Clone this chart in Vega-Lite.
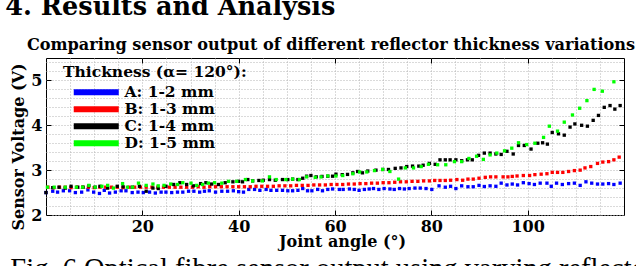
{
  "$schema": "https://vega.github.io/schema/vega-lite/v6.json",
  "background": "white",
  "padding": {"left": 5, "top": -5, "right": 0, "bottom": 0},
  "title": {"text": "4.  Results and Analysis", "anchor": "start", "frame": "bounds", "font": "DejaVu Serif", "fontSize": 25.5, "fontWeight": "bold", "color": "#000", "offset": 16, "dx": -5},
  "vconcat": [
    {
      "title": {"text": "Fig. 6 Optical fibre sensor output using varying reflector", "orient": "bottom", "anchor": "start", "frame": "bounds", "font": "Liberation Serif", "fontSize": 28.5, "fontWeight": "normal", "color": "#000", "offset": 5},
      "vconcat": [
        {
          "title": {"text": "Comparing sensor output of different reflector thickness variations", "anchor": "middle", "font": "DejaVu Serif", "fontSize": 16.1, "fontWeight": "bold", "color": "#000", "offset": 1, "dx": -4},
          "width": 578,
          "height": 157,
          "data": {"values": [
            {"s":"A: 1-2 mm","a":0.0,"v":2.50},{"s":"A: 1-2 mm","a":1.4,"v":2.53},{"s":"A: 1-2 mm","a":2.4,"v":2.51},{"s":"A: 1-2 mm","a":3.6,"v":2.54},{"s":"A: 1-2 mm","a":4.9,"v":2.54},{"s":"A: 1-2 mm","a":6.1,"v":2.50},{"s":"A: 1-2 mm","a":7.4,"v":2.51},{"s":"A: 1-2 mm","a":8.7,"v":2.56},{"s":"A: 1-2 mm","a":9.9,"v":2.51},{"s":"A: 1-2 mm","a":11.1,"v":2.48},{"s":"A: 1-2 mm","a":12.1,"v":2.55},{"s":"A: 1-2 mm","a":13.2,"v":2.49},{"s":"A: 1-2 mm","a":14.4,"v":2.51},{"s":"A: 1-2 mm","a":15.6,"v":2.54},{"s":"A: 1-2 mm","a":16.6,"v":2.54},{"s":"A: 1-2 mm","a":17.9,"v":2.50},{"s":"A: 1-2 mm","a":19.1,"v":2.51},{"s":"A: 1-2 mm","a":20.2,"v":2.50},{"s":"A: 1-2 mm","a":21.5,"v":2.51},{"s":"A: 1-2 mm","a":22.7,"v":2.49},{"s":"A: 1-2 mm","a":23.9,"v":2.51},{"s":"A: 1-2 mm","a":24.9,"v":2.51},{"s":"A: 1-2 mm","a":26.1,"v":2.50},{"s":"A: 1-2 mm","a":27.3,"v":2.51},{"s":"A: 1-2 mm","a":28.4,"v":2.51},{"s":"A: 1-2 mm","a":29.6,"v":2.53},{"s":"A: 1-2 mm","a":30.7,"v":2.53},{"s":"A: 1-2 mm","a":31.9,"v":2.51},{"s":"A: 1-2 mm","a":32.9,"v":2.53},{"s":"A: 1-2 mm","a":33.9,"v":2.54},{"s":"A: 1-2 mm","a":35.2,"v":2.51},{"s":"A: 1-2 mm","a":36.5,"v":2.53},{"s":"A: 1-2 mm","a":37.7,"v":2.53},{"s":"A: 1-2 mm","a":38.9,"v":2.54},{"s":"A: 1-2 mm","a":40.0,"v":2.52},{"s":"A: 1-2 mm","a":41.0,"v":2.51},{"s":"A: 1-2 mm","a":42.1,"v":2.57},{"s":"A: 1-2 mm","a":43.3,"v":2.57},{"s":"A: 1-2 mm","a":44.4,"v":2.55},{"s":"A: 1-2 mm","a":45.7,"v":2.57},{"s":"A: 1-2 mm","a":46.7,"v":2.55},{"s":"A: 1-2 mm","a":47.9,"v":2.55},{"s":"A: 1-2 mm","a":49.1,"v":2.55},{"s":"A: 1-2 mm","a":50.2,"v":2.54},{"s":"A: 1-2 mm","a":51.2,"v":2.54},{"s":"A: 1-2 mm","a":52.3,"v":2.55},{"s":"A: 1-2 mm","a":53.3,"v":2.59},{"s":"A: 1-2 mm","a":54.3,"v":2.54},{"s":"A: 1-2 mm","a":55.2,"v":2.54},{"s":"A: 1-2 mm","a":56.4,"v":2.57},{"s":"A: 1-2 mm","a":57.4,"v":2.54},{"s":"A: 1-2 mm","a":58.5,"v":2.57},{"s":"A: 1-2 mm","a":59.5,"v":2.58},{"s":"A: 1-2 mm","a":60.9,"v":2.57},{"s":"A: 1-2 mm","a":61.7,"v":2.57},{"s":"A: 1-2 mm","a":63.0,"v":2.58},{"s":"A: 1-2 mm","a":64.0,"v":2.57},{"s":"A: 1-2 mm","a":65.0,"v":2.55},{"s":"A: 1-2 mm","a":66.1,"v":2.57},{"s":"A: 1-2 mm","a":67.1,"v":2.58},{"s":"A: 1-2 mm","a":68.0,"v":2.59},{"s":"A: 1-2 mm","a":69.1,"v":2.57},{"s":"A: 1-2 mm","a":70.2,"v":2.59},{"s":"A: 1-2 mm","a":71.4,"v":2.58},{"s":"A: 1-2 mm","a":72.3,"v":2.57},{"s":"A: 1-2 mm","a":73.4,"v":2.59},{"s":"A: 1-2 mm","a":74.4,"v":2.58},{"s":"A: 1-2 mm","a":75.4,"v":2.59},{"s":"A: 1-2 mm","a":76.6,"v":2.60},{"s":"A: 1-2 mm","a":77.7,"v":2.60},{"s":"A: 1-2 mm","a":78.9,"v":2.59},{"s":"A: 1-2 mm","a":80.1,"v":2.57},{"s":"A: 1-2 mm","a":81.6,"v":2.65},{"s":"A: 1-2 mm","a":82.9,"v":2.62},{"s":"A: 1-2 mm","a":84.0,"v":2.64},{"s":"A: 1-2 mm","a":85.1,"v":2.59},{"s":"A: 1-2 mm","a":86.3,"v":2.65},{"s":"A: 1-2 mm","a":87.6,"v":2.63},{"s":"A: 1-2 mm","a":88.7,"v":2.63},{"s":"A: 1-2 mm","a":89.9,"v":2.66},{"s":"A: 1-2 mm","a":91.0,"v":2.635},{"s":"A: 1-2 mm","a":92.2,"v":2.65},{"s":"A: 1-2 mm","a":93.4,"v":2.64},{"s":"A: 1-2 mm","a":94.5,"v":2.71},{"s":"A: 1-2 mm","a":95.7,"v":2.67},{"s":"A: 1-2 mm","a":96.8,"v":2.69},{"s":"A: 1-2 mm","a":97.9,"v":2.67},{"s":"A: 1-2 mm","a":99.1,"v":2.72},{"s":"A: 1-2 mm","a":100.3,"v":2.70},{"s":"A: 1-2 mm","a":101.4,"v":2.68},{"s":"A: 1-2 mm","a":102.6,"v":2.71},{"s":"A: 1-2 mm","a":104.0,"v":2.71},{"s":"A: 1-2 mm","a":104.9,"v":2.64},{"s":"A: 1-2 mm","a":106.0,"v":2.71},{"s":"A: 1-2 mm","a":107.2,"v":2.68},{"s":"A: 1-2 mm","a":108.5,"v":2.70},{"s":"A: 1-2 mm","a":109.7,"v":2.71},{"s":"A: 1-2 mm","a":110.9,"v":2.66},{"s":"A: 1-2 mm","a":112.1,"v":2.74},{"s":"A: 1-2 mm","a":113.3,"v":2.71},{"s":"A: 1-2 mm","a":114.5,"v":2.69},{"s":"A: 1-2 mm","a":115.6,"v":2.69},{"s":"A: 1-2 mm","a":116.8,"v":2.70},{"s":"A: 1-2 mm","a":117.9,"v":2.68},{"s":"A: 1-2 mm","a":119.2,"v":2.71},
            {"s":"B: 1-3 mm","a":0.4,"v":2.62},{"s":"B: 1-3 mm","a":1.6,"v":2.61},{"s":"B: 1-3 mm","a":2.8,"v":2.62},{"s":"B: 1-3 mm","a":4.0,"v":2.62},{"s":"B: 1-3 mm","a":5.2,"v":2.61},{"s":"B: 1-3 mm","a":6.4,"v":2.62},{"s":"B: 1-3 mm","a":7.6,"v":2.62},{"s":"B: 1-3 mm","a":8.8,"v":2.62},{"s":"B: 1-3 mm","a":10.0,"v":2.61},{"s":"B: 1-3 mm","a":11.2,"v":2.62},{"s":"B: 1-3 mm","a":12.4,"v":2.62},{"s":"B: 1-3 mm","a":13.6,"v":2.62},{"s":"B: 1-3 mm","a":14.8,"v":2.62},{"s":"B: 1-3 mm","a":16.0,"v":2.61},{"s":"B: 1-3 mm","a":17.2,"v":2.62},{"s":"B: 1-3 mm","a":18.4,"v":2.62},{"s":"B: 1-3 mm","a":19.6,"v":2.62},{"s":"B: 1-3 mm","a":20.8,"v":2.62},{"s":"B: 1-3 mm","a":22.0,"v":2.62},{"s":"B: 1-3 mm","a":23.2,"v":2.62},{"s":"B: 1-3 mm","a":24.4,"v":2.62},{"s":"B: 1-3 mm","a":25.6,"v":2.62},{"s":"B: 1-3 mm","a":26.8,"v":2.62},{"s":"B: 1-3 mm","a":28.0,"v":2.62},{"s":"B: 1-3 mm","a":29.2,"v":2.62},{"s":"B: 1-3 mm","a":30.4,"v":2.62},{"s":"B: 1-3 mm","a":31.6,"v":2.63},{"s":"B: 1-3 mm","a":32.8,"v":2.62},{"s":"B: 1-3 mm","a":34.0,"v":2.63},{"s":"B: 1-3 mm","a":35.2,"v":2.63},{"s":"B: 1-3 mm","a":36.4,"v":2.63},{"s":"B: 1-3 mm","a":37.6,"v":2.63},{"s":"B: 1-3 mm","a":38.8,"v":2.63},{"s":"B: 1-3 mm","a":40.0,"v":2.63},{"s":"B: 1-3 mm","a":41.2,"v":2.63},{"s":"B: 1-3 mm","a":42.4,"v":2.63},{"s":"B: 1-3 mm","a":43.6,"v":2.64},{"s":"B: 1-3 mm","a":44.8,"v":2.64},{"s":"B: 1-3 mm","a":46.0,"v":2.64},{"s":"B: 1-3 mm","a":47.2,"v":2.64},{"s":"B: 1-3 mm","a":48.4,"v":2.65},{"s":"B: 1-3 mm","a":49.6,"v":2.65},{"s":"B: 1-3 mm","a":50.8,"v":2.65},{"s":"B: 1-3 mm","a":52.0,"v":2.66},{"s":"B: 1-3 mm","a":53.2,"v":2.66},{"s":"B: 1-3 mm","a":54.4,"v":2.66},{"s":"B: 1-3 mm","a":55.6,"v":2.67},{"s":"B: 1-3 mm","a":56.8,"v":2.67},{"s":"B: 1-3 mm","a":58.0,"v":2.67},{"s":"B: 1-3 mm","a":59.2,"v":2.68},{"s":"B: 1-3 mm","a":60.4,"v":2.68},{"s":"B: 1-3 mm","a":61.6,"v":2.68},{"s":"B: 1-3 mm","a":62.8,"v":2.69},{"s":"B: 1-3 mm","a":64.0,"v":2.69},{"s":"B: 1-3 mm","a":65.2,"v":2.70},{"s":"B: 1-3 mm","a":66.4,"v":2.70},{"s":"B: 1-3 mm","a":67.6,"v":2.71},{"s":"B: 1-3 mm","a":68.8,"v":2.71},{"s":"B: 1-3 mm","a":70.0,"v":2.72},{"s":"B: 1-3 mm","a":71.2,"v":2.72},{"s":"B: 1-3 mm","a":72.4,"v":2.73},{"s":"B: 1-3 mm","a":73.6,"v":2.74},{"s":"B: 1-3 mm","a":74.8,"v":2.74},{"s":"B: 1-3 mm","a":76.0,"v":2.75},{"s":"B: 1-3 mm","a":77.2,"v":2.75},{"s":"B: 1-3 mm","a":78.4,"v":2.76},{"s":"B: 1-3 mm","a":79.6,"v":2.76},{"s":"B: 1-3 mm","a":80.7,"v":2.77},{"s":"B: 1-3 mm","a":81.8,"v":2.77},{"s":"B: 1-3 mm","a":82.9,"v":2.77},{"s":"B: 1-3 mm","a":84.0,"v":2.775},{"s":"B: 1-3 mm","a":85.3,"v":2.79},{"s":"B: 1-3 mm","a":86.5,"v":2.775},{"s":"B: 1-3 mm","a":87.6,"v":2.80},{"s":"B: 1-3 mm","a":88.7,"v":2.80},{"s":"B: 1-3 mm","a":89.9,"v":2.82},{"s":"B: 1-3 mm","a":91.2,"v":2.84},{"s":"B: 1-3 mm","a":92.3,"v":2.85},{"s":"B: 1-3 mm","a":93.4,"v":2.85},{"s":"B: 1-3 mm","a":94.9,"v":2.85},{"s":"B: 1-3 mm","a":95.9,"v":2.85},{"s":"B: 1-3 mm","a":96.8,"v":2.86},{"s":"B: 1-3 mm","a":97.8,"v":2.87},{"s":"B: 1-3 mm","a":99.1,"v":2.88},{"s":"B: 1-3 mm","a":100.4,"v":2.88},{"s":"B: 1-3 mm","a":101.5,"v":2.90},{"s":"B: 1-3 mm","a":102.8,"v":2.91},{"s":"B: 1-3 mm","a":104.0,"v":2.92},{"s":"B: 1-3 mm","a":105.1,"v":2.95},{"s":"B: 1-3 mm","a":106.2,"v":2.95},{"s":"B: 1-3 mm","a":107.3,"v":2.95},{"s":"B: 1-3 mm","a":108.5,"v":2.97},{"s":"B: 1-3 mm","a":109.7,"v":2.99},{"s":"B: 1-3 mm","a":110.9,"v":3.00},{"s":"B: 1-3 mm","a":111.9,"v":3.05},{"s":"B: 1-3 mm","a":113.1,"v":3.08},{"s":"B: 1-3 mm","a":114.5,"v":3.15},{"s":"B: 1-3 mm","a":115.6,"v":3.18},{"s":"B: 1-3 mm","a":116.8,"v":3.19},{"s":"B: 1-3 mm","a":117.9,"v":3.23},{"s":"B: 1-3 mm","a":119.0,"v":3.29},
            {"s":"C: 1-4 mm","a":0.0,"v":2.50},{"s":"C: 1-4 mm","a":1.4,"v":2.61},{"s":"C: 1-4 mm","a":2.7,"v":2.62},{"s":"C: 1-4 mm","a":4.0,"v":2.60},{"s":"C: 1-4 mm","a":5.2,"v":2.64},{"s":"C: 1-4 mm","a":6.6,"v":2.62},{"s":"C: 1-4 mm","a":7.7,"v":2.62},{"s":"C: 1-4 mm","a":8.9,"v":2.65},{"s":"C: 1-4 mm","a":10.2,"v":2.62},{"s":"C: 1-4 mm","a":11.2,"v":2.64},{"s":"C: 1-4 mm","a":12.8,"v":2.60},{"s":"C: 1-4 mm","a":14.8,"v":2.64},{"s":"C: 1-4 mm","a":16.0,"v":2.63},{"s":"C: 1-4 mm","a":17.9,"v":2.62},{"s":"C: 1-4 mm","a":19.4,"v":2.64},{"s":"C: 1-4 mm","a":20.8,"v":2.53},{"s":"C: 1-4 mm","a":22.2,"v":2.60},{"s":"C: 1-4 mm","a":23.3,"v":2.59},{"s":"C: 1-4 mm","a":24.9,"v":2.64},{"s":"C: 1-4 mm","a":26.5,"v":2.68},{"s":"C: 1-4 mm","a":27.8,"v":2.72},{"s":"C: 1-4 mm","a":29.2,"v":2.68},{"s":"C: 1-4 mm","a":30.6,"v":2.65},{"s":"C: 1-4 mm","a":32.1,"v":2.70},{"s":"C: 1-4 mm","a":33.2,"v":2.72},{"s":"C: 1-4 mm","a":34.4,"v":2.69},{"s":"C: 1-4 mm","a":35.8,"v":2.68},{"s":"C: 1-4 mm","a":37.2,"v":2.72},{"s":"C: 1-4 mm","a":38.8,"v":2.74},{"s":"C: 1-4 mm","a":40.0,"v":2.75},{"s":"C: 1-4 mm","a":40.8,"v":2.74},{"s":"C: 1-4 mm","a":41.9,"v":2.79},{"s":"C: 1-4 mm","a":42.9,"v":2.76},{"s":"C: 1-4 mm","a":44.2,"v":2.77},{"s":"C: 1-4 mm","a":45.1,"v":2.775},{"s":"C: 1-4 mm","a":46.4,"v":2.79},{"s":"C: 1-4 mm","a":47.6,"v":2.775},{"s":"C: 1-4 mm","a":49.1,"v":2.79},{"s":"C: 1-4 mm","a":50.2,"v":2.79},{"s":"C: 1-4 mm","a":51.2,"v":2.80},{"s":"C: 1-4 mm","a":52.3,"v":2.79},{"s":"C: 1-4 mm","a":53.3,"v":2.82},{"s":"C: 1-4 mm","a":54.1,"v":2.865},{"s":"C: 1-4 mm","a":55.0,"v":2.88},{"s":"C: 1-4 mm","a":56.1,"v":2.85},{"s":"C: 1-4 mm","a":57.3,"v":2.86},{"s":"C: 1-4 mm","a":58.5,"v":2.865},{"s":"C: 1-4 mm","a":59.5,"v":2.865},{"s":"C: 1-4 mm","a":60.2,"v":2.91},{"s":"C: 1-4 mm","a":61.5,"v":2.90},{"s":"C: 1-4 mm","a":62.6,"v":2.905},{"s":"C: 1-4 mm","a":63.7,"v":2.94},{"s":"C: 1-4 mm","a":64.7,"v":2.97},{"s":"C: 1-4 mm","a":65.7,"v":2.94},{"s":"C: 1-4 mm","a":66.8,"v":2.98},{"s":"C: 1-4 mm","a":68.5,"v":3.00},{"s":"C: 1-4 mm","a":69.9,"v":3.015},{"s":"C: 1-4 mm","a":71.1,"v":3.015},{"s":"C: 1-4 mm","a":72.5,"v":3.04},{"s":"C: 1-4 mm","a":73.7,"v":3.05},{"s":"C: 1-4 mm","a":74.9,"v":3.08},{"s":"C: 1-4 mm","a":76.1,"v":3.09},{"s":"C: 1-4 mm","a":77.4,"v":3.09},{"s":"C: 1-4 mm","a":78.3,"v":3.11},{"s":"C: 1-4 mm","a":79.6,"v":3.15},{"s":"C: 1-4 mm","a":80.8,"v":3.13},{"s":"C: 1-4 mm","a":81.8,"v":3.23},{"s":"C: 1-4 mm","a":82.9,"v":3.23},{"s":"C: 1-4 mm","a":83.9,"v":3.23},{"s":"C: 1-4 mm","a":85.1,"v":3.23},{"s":"C: 1-4 mm","a":86.3,"v":3.21},{"s":"C: 1-4 mm","a":87.5,"v":3.23},{"s":"C: 1-4 mm","a":88.5,"v":3.23},{"s":"C: 1-4 mm","a":89.8,"v":3.33},{"s":"C: 1-4 mm","a":91.0,"v":3.38},{"s":"C: 1-4 mm","a":92.2,"v":3.38},{"s":"C: 1-4 mm","a":93.4,"v":3.36},{"s":"C: 1-4 mm","a":94.5,"v":3.35},{"s":"C: 1-4 mm","a":95.7,"v":3.42},{"s":"C: 1-4 mm","a":97.0,"v":3.36},{"s":"C: 1-4 mm","a":98.1,"v":3.55},{"s":"C: 1-4 mm","a":99.3,"v":3.55},{"s":"C: 1-4 mm","a":100.7,"v":3.47},{"s":"C: 1-4 mm","a":102.1,"v":3.60},{"s":"C: 1-4 mm","a":103.1,"v":3.61},{"s":"C: 1-4 mm","a":104.1,"v":3.58},{"s":"C: 1-4 mm","a":105.1,"v":3.84},{"s":"C: 1-4 mm","a":106.4,"v":3.81},{"s":"C: 1-4 mm","a":107.6,"v":3.78},{"s":"C: 1-4 mm","a":108.8,"v":3.96},{"s":"C: 1-4 mm","a":109.8,"v":4.03},{"s":"C: 1-4 mm","a":111.2,"v":4.00},{"s":"C: 1-4 mm","a":112.4,"v":3.98},{"s":"C: 1-4 mm","a":113.6,"v":4.11},{"s":"C: 1-4 mm","a":114.7,"v":4.22},{"s":"C: 1-4 mm","a":115.9,"v":4.40},{"s":"C: 1-4 mm","a":117.1,"v":4.44},{"s":"C: 1-4 mm","a":118.1,"v":4.36},{"s":"C: 1-4 mm","a":119.2,"v":4.44},
            {"s":"D: 1-5 mm","a":0.3,"v":2.62},{"s":"D: 1-5 mm","a":1.7,"v":2.62},{"s":"D: 1-5 mm","a":4.0,"v":2.62},{"s":"D: 1-5 mm","a":6.3,"v":2.62},{"s":"D: 1-5 mm","a":7.6,"v":2.62},{"s":"D: 1-5 mm","a":8.9,"v":2.66},{"s":"D: 1-5 mm","a":10.2,"v":2.62},{"s":"D: 1-5 mm","a":11.6,"v":2.64},{"s":"D: 1-5 mm","a":12.8,"v":2.66},{"s":"D: 1-5 mm","a":14.0,"v":2.60},{"s":"D: 1-5 mm","a":15.9,"v":2.70},{"s":"D: 1-5 mm","a":16.9,"v":2.62},{"s":"D: 1-5 mm","a":18.0,"v":2.62},{"s":"D: 1-5 mm","a":19.2,"v":2.71},{"s":"D: 1-5 mm","a":20.8,"v":2.66},{"s":"D: 1-5 mm","a":22.2,"v":2.69},{"s":"D: 1-5 mm","a":23.3,"v":2.65},{"s":"D: 1-5 mm","a":24.5,"v":2.66},{"s":"D: 1-5 mm","a":25.9,"v":2.69},{"s":"D: 1-5 mm","a":27.3,"v":2.68},{"s":"D: 1-5 mm","a":28.4,"v":2.72},{"s":"D: 1-5 mm","a":30.1,"v":2.71},{"s":"D: 1-5 mm","a":31.3,"v":2.66},{"s":"D: 1-5 mm","a":32.5,"v":2.68},{"s":"D: 1-5 mm","a":33.7,"v":2.71},{"s":"D: 1-5 mm","a":35.0,"v":2.72},{"s":"D: 1-5 mm","a":36.5,"v":2.71},{"s":"D: 1-5 mm","a":37.9,"v":2.75},{"s":"D: 1-5 mm","a":39.6,"v":2.75},{"s":"D: 1-5 mm","a":41.4,"v":2.79},{"s":"D: 1-5 mm","a":42.9,"v":2.76},{"s":"D: 1-5 mm","a":44.9,"v":2.76},{"s":"D: 1-5 mm","a":46.4,"v":2.85},{"s":"D: 1-5 mm","a":47.8,"v":2.79},{"s":"D: 1-5 mm","a":49.8,"v":2.79},{"s":"D: 1-5 mm","a":51.2,"v":2.80},{"s":"D: 1-5 mm","a":52.6,"v":2.79},{"s":"D: 1-5 mm","a":54.1,"v":2.85},{"s":"D: 1-5 mm","a":55.9,"v":2.84},{"s":"D: 1-5 mm","a":57.1,"v":2.85},{"s":"D: 1-5 mm","a":58.5,"v":2.87},{"s":"D: 1-5 mm","a":60.2,"v":2.87},{"s":"D: 1-5 mm","a":61.6,"v":2.88},{"s":"D: 1-5 mm","a":63.7,"v":2.92},{"s":"D: 1-5 mm","a":65.1,"v":2.96},{"s":"D: 1-5 mm","a":66.6,"v":2.96},{"s":"D: 1-5 mm","a":68.2,"v":2.99},{"s":"D: 1-5 mm","a":69.9,"v":3.015},{"s":"D: 1-5 mm","a":71.4,"v":2.97},{"s":"D: 1-5 mm","a":73.2,"v":2.80},{"s":"D: 1-5 mm","a":74.6,"v":3.05},{"s":"D: 1-5 mm","a":76.3,"v":3.05},{"s":"D: 1-5 mm","a":77.9,"v":3.08},{"s":"D: 1-5 mm","a":79.4,"v":3.13},{"s":"D: 1-5 mm","a":81.3,"v":3.12},{"s":"D: 1-5 mm","a":83.0,"v":3.12},{"s":"D: 1-5 mm","a":84.8,"v":3.19},{"s":"D: 1-5 mm","a":86.3,"v":3.19},{"s":"D: 1-5 mm","a":87.8,"v":3.26},{"s":"D: 1-5 mm","a":89.4,"v":3.31},{"s":"D: 1-5 mm","a":90.8,"v":3.24},{"s":"D: 1-5 mm","a":92.2,"v":3.34},{"s":"D: 1-5 mm","a":93.6,"v":3.38},{"s":"D: 1-5 mm","a":95.2,"v":3.43},{"s":"D: 1-5 mm","a":96.7,"v":3.49},{"s":"D: 1-5 mm","a":98.1,"v":3.61},{"s":"D: 1-5 mm","a":99.8,"v":3.57},{"s":"D: 1-5 mm","a":101.5,"v":3.60},{"s":"D: 1-5 mm","a":103.3,"v":3.73},{"s":"D: 1-5 mm","a":104.5,"v":3.98},{"s":"D: 1-5 mm","a":106.2,"v":3.87},{"s":"D: 1-5 mm","a":107.6,"v":4.07},{"s":"D: 1-5 mm","a":109.3,"v":4.23},{"s":"D: 1-5 mm","a":110.8,"v":4.38},{"s":"D: 1-5 mm","a":112.3,"v":4.55},{"s":"D: 1-5 mm","a":113.8,"v":4.80},{"s":"D: 1-5 mm","a":115.5,"v":4.76},{"s":"D: 1-5 mm","a":117.9,"v":4.97}
          ]},
          "layer": [
            {
              "mark": {"type": "square", "size": 11, "filled": true, "opacity": 1},
              "encoding": {
                "x": {"field": "a", "type": "quantitative", "scale": {"domain": [0, 120], "nice": false, "zero": false},
                  "axis": {"orient": "bottom", "values": [5,10,15,20,25,30,35,40,45,50,55,60,65,70,75,80,85,90,95,100,105,110,115], "grid": true, "tickSize": -5, "tickColor": {"condition": {"test": "datum.value % 20 == 0", "value": "#000000"}, "value": "transparent"}, "labelExpr": "datum.value % 20 == 0 ? datum.label : ''", "labelPadding": 8, "title": "Joint angle (°)", "titleFontSize": 16, "titlePadding": -1, "titleX": 296}},
                "y": {"field": "v", "type": "quantitative", "scale": {"domain": [2, 5.5], "nice": false, "zero": false},
                  "axis": {"orient": "left", "values": [2,2.2,2.4,2.6,2.8,3,3.2,3.4,3.6,3.8,4,4.2,4.4,4.6,4.8,5,5.2,5.4], "grid": true, "tickSize": -5, "tickColor": {"condition": {"test": "abs(datum.value - round(datum.value)) < 0.01", "value": "#000000"}, "value": "transparent"}, "labelExpr": "abs(datum.value - round(datum.value)) < 0.01 ? format(datum.value, 'd') : ''", "labelPadding": 9, "title": "Sensor Voltage (V)", "titleFontSize": 16, "titlePadding": 4, "titleY": 88.5}},
                "color": {"field": "s", "type": "nominal", "scale": {"domain": ["A: 1-2 mm", "B: 1-3 mm", "C: 1-4 mm", "D: 1-5 mm"], "range": ["#0000ff", "#ff0000", "#000000", "#00ff00"]},
                  "legend": {"title": "Thickness (α= 120°):"}}
              }
            },
            {
              "mark": {"type": "square", "size": 11, "opacity": 0},
              "encoding": {
                "x": {"field": "a", "type": "quantitative", "axis": {"orient": "top", "values": [20,40,60,80,100], "grid": false, "labels": false, "tickSize": -5, "tickColor": "#000000", "title": null}},
                "y": {"field": "v", "type": "quantitative", "axis": {"orient": "right", "values": [3,4,5], "grid": false, "labels": false, "tickSize": -5, "tickColor": "#000000", "title": null}}
              }
            }
          ],
          "resolve": {"axis": {"x": "independent", "y": "independent"}}
        }
      ]
    }
  ],
  "config": {
    "view": {"stroke": "#000000", "strokeWidth": 1},
    "axis": {"domain": false, "labelFont": "DejaVu Serif", "labelFontWeight": "bold", "labelFontSize": 16, "labelColor": "#000000", "titleFont": "DejaVu Serif", "titleFontWeight": "bold", "titleFontSize": 15.5, "titleColor": "#000000", "gridColor": "#b4b4b4", "gridDash": [1, 2], "gridWidth": 1, "labelOverlap": false, "labelFlush": false, "labelBound": false},
    "legend": {"orient": "none", "legendX": 17, "legendY": 7, "padding": 0, "titleFont": "DejaVu Serif", "titleFontSize": 15.5, "titleFontWeight": "bold", "titleColor": "#000000", "titlePadding": 4, "titleLimit": 400, "labelLimit": 300, "labelFont": "DejaVu Serif", "labelFontSize": 15.5, "labelFontWeight": "bold", "labelColor": "#000000", "symbolType": "M-3,-0.4H3V0.4H-3Z", "symbolSize": 225, "symbolOffset": 25.5, "labelOffset": 20.5, "rowPadding": -0.5, "symbolStrokeWidth": 0, "symbolOpacity": 1},
    "concat": {"spacing": 0}
  }
}
